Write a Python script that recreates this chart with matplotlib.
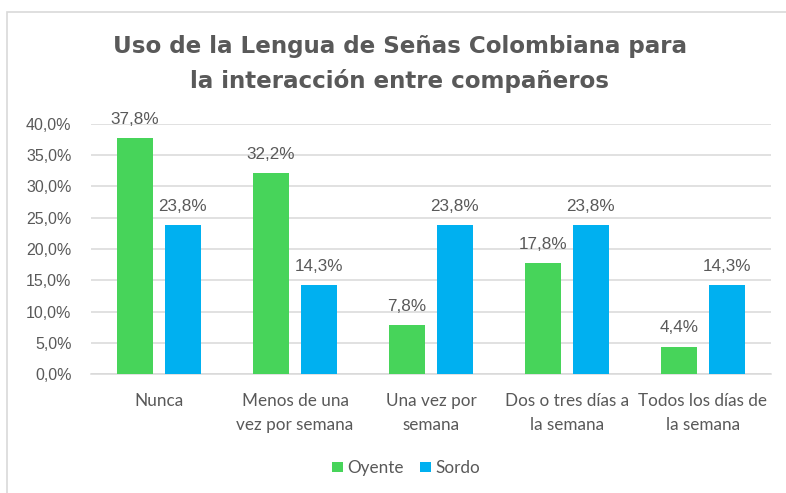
import matplotlib.pyplot as plt
import numpy as np
from matplotlib.patches import Rectangle

categories = ["Nunca", "Menos de una\nvez por semana", "Una vez por\nsemana",
              "Dos o tres días a\nla semana", "Todos los días de\nla semana"]
oyente = [37.8, 32.2, 7.8, 17.8, 4.4]
sordo = [23.8, 14.3, 23.8, 23.8, 14.3]
yticks = [0, 5, 10, 15, 20, 25, 30, 35, 40]

GREEN = "#47d45a"
BLUE = "#00b0f0"
GRAY = "#595959"
GRID = "#d9d9d9"
NUMFONT = "Liberation Sans"

plt.rcParams["font.family"] = ["Lato", "DejaVu Sans"]

fig = plt.figure(figsize=(7.86, 4.93), dpi=100)
W, H = 786, 493
ax = fig.add_axes([91 / W, 1 - 374 / H, (771 - 91) / W, (374 - 124) / H])

x = np.arange(len(categories))
w = 0.265
off = 0.176
b1 = ax.bar(x - off, oyente, w, color=GREEN, label="Oyente", zorder=3)
b2 = ax.bar(x + off, sordo, w, color=BLUE, label="Sordo", zorder=3)

def fmt(v):
    return f"{v:.1f}%".replace(".", ",")

for bars, vals in ((b1, oyente), (b2, sordo)):
    for rect, v in zip(bars, vals):
        ax.annotate(fmt(v), (rect.get_x() + rect.get_width() / 2, v),
                    xytext=(0, 8), textcoords="offset points",
                    ha="center", va="bottom", fontsize=12.3, color=GRAY,
                    family=NUMFONT)

ax.set_xlim(-0.5, len(categories) - 0.5)
ax.set_ylim(0, 40)
ax.set_yticks(yticks)
ax.set_yticklabels([fmt(t) for t in yticks], family=NUMFONT)
ax.set_xticks(x)
ax.set_xticklabels(categories, linespacing=1.6)
ax.tick_params(axis="y", length=0, pad=14, labelsize=11.5, labelcolor=GRAY)
ax.tick_params(axis="x", length=0, pad=14, labelsize=12.3, labelcolor=GRAY)
ax.grid(axis="y", color=GRID, linewidth=1.1, zorder=0)
for s in ("top", "right", "left"):
    ax.spines[s].set_visible(False)
ax.spines["bottom"].set_color(GRID)
ax.spines["bottom"].set_linewidth(1.1)

fig.text(400 / W, 1 - 46 / H, "Uso de la Lengua de Señas Colombiana para",
         ha="center", va="center", fontsize=16.6, fontweight="bold",
         color=GRAY, family="DejaVu Sans")
fig.text(400 / W, 1 - 81 / H, "la interacción entre compañeros",
         ha="center", va="center", fontsize=16.6, fontweight="bold",
         color=GRAY, family="DejaVu Sans")

fig.legend(handles=[b1, b2], loc="center", bbox_to_anchor=(406 / W, 1 - 468 / H),
           ncol=2, frameon=False, fontsize=12.3, labelcolor=GRAY,
           handlelength=0.6, handleheight=0.6, handletextpad=0.25, columnspacing=1.0)

# light frame of the chart area
fig.patches.append(Rectangle((7 / W, -0.1), 1.2, 1 - 12 / H + 0.1,
                             transform=fig.transFigure, fill=False,
                             edgecolor=GRID, linewidth=1.2))

fig.savefig("out.png", dpi=100)
